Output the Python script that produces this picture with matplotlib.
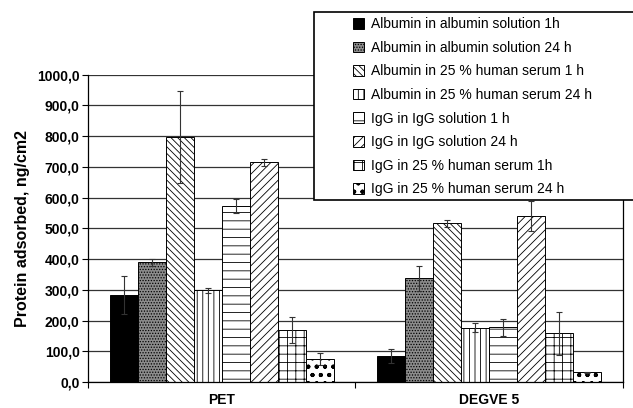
import matplotlib.pyplot as plt
import matplotlib.patches as mpatches
from matplotlib.ticker import FuncFormatter

# --- Podatki ------------------------------------------------------------------

KATEGORIJE = ["PET", "DEGVE 5"]

SERIJE = [
    "Albumin in albumin solution 1h",
    "Albumin in albumin solution 24 h",
    "Albumin in 25 % human serum 1 h",
    "Albumin in 25 % human serum 24 h",
    "IgG in IgG solution 1 h",
    "IgG in IgG solution 24 h",
    "IgG in 25 % human serum 1h",
    "IgG in 25 % human serum 24 h",
]

# vrednosti po serijah: [PET, DEGVE 5]
VREDNOSTI = [
    [283, 84],
    [389, 337],
    [796, 516],
    [298, 177],
    [572, 178],
    [714, 540],
    [169, 158],
    [74, 31],
]

NAPAKE = [
    [63, 22],
    [12, 40],
    [150, 11],
    [8, 14],
    [24, 27],
    [10, 50],
    [42, 70],
    [19, 3],
]

BARVE = ["black", "#8c8c8c", "white", "white", "white", "white", "white", "white"]
VZORCI = [None, "......", "\\\\\\\\\\", "|||", "--", "////", "++", "oo.."]


# --- Izris --------------------------------------------------------------------

plt.rcParams["font.family"] = ["Liberation Sans", "DejaVu Sans"]
plt.rcParams["hatch.linewidth"] = 0.6

fig = plt.figure(figsize=(6.33, 4.08), dpi=100)
ax = fig.add_axes([0.139, 0.0637, 0.845, 0.7537])

sirina = 0.1047
for i, (ime, vals, napake) in enumerate(zip(SERIJE, VREDNOSTI, NAPAKE)):
    x = [k + (i - 3.5) * sirina for k in range(len(KATEGORIJE))]
    ax.bar(x, vals, sirina, color=BARVE[i], hatch=VZORCI[i], edgecolor="black",
           linewidth=0.7, label=ime, zorder=2)
    ax.errorbar(x, vals, yerr=napake, fmt="none", ecolor="#333333",
                elinewidth=0.8, capsize=2.5, capthick=0.8, zorder=3)

ax.set_ylim(0, 1000)
ax.set_xlim(-0.5, 1.5)
ax.set_yticks(range(0, 1001, 100))
ax.yaxis.set_major_formatter(FuncFormatter(lambda v, p: f"{v:.1f}".replace(".", ",")))
ax.yaxis.grid(True, color="#333333", linewidth=0.9, zorder=0)
ax.set_axisbelow(True)

ax.set_xticks([-0.5, 0.5, 1.5])
ax.set_xticklabels([])
ax.set_xticks([0, 1], minor=True)
ax.set_xticklabels(KATEGORIJE, minor=True, fontsize=10, fontweight="bold")
ax.tick_params(axis="x", which="minor", length=0, pad=8)
ax.tick_params(axis="x", which="major", length=4, width=0.8, direction="out")
ax.tick_params(axis="y", length=4, width=0.8, labelsize=10, pad=2)
for lab in ax.get_yticklabels():
    lab.set_fontweight("bold")

ax.spines["top"].set_visible(False)
for s in ["left", "right", "bottom"]:
    ax.spines[s].set_linewidth(0.9)

ax.set_ylabel("Protein adsorbed, ng/cm2", fontsize=11.5, fontweight="bold", labelpad=5)

# okvir legende
okvir = mpatches.Rectangle((0.496, 0.5098), 0.6, 0.4608, transform=fig.transFigure,
                           facecolor="white", edgecolor="black", linewidth=1.2,
                           zorder=5)
fig.patches.append(okvir)

h, l = ax.get_legend_handles_labels()
leg = fig.legend(h, l, loc="upper left", bbox_to_anchor=(0.54, 0.985),
                 frameon=False, fontsize=10, handlelength=0.8, handleheight=0.8,
                 handletextpad=0.5, labelspacing=0.69, borderpad=0.3)
leg.set_zorder(6)

fig.savefig("out.png", dpi=100)
